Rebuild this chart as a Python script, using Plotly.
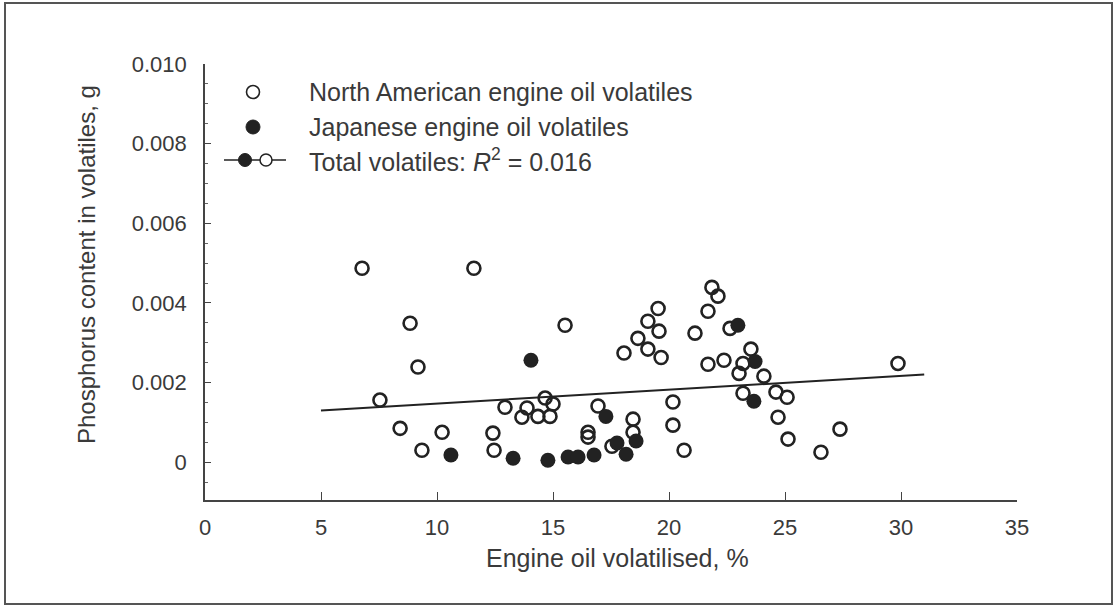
import plotly.graph_objects as go

# ---------------- data ----------------
na_x = [6.77, 7.54, 8.41, 8.84, 9.18, 9.35, 10.22, 11.59, 12.46, 12.41, 12.93, 13.88,
        13.66, 14.35, 14.87, 15.0, 14.66, 15.52, 16.94, 16.51, 16.51, 18.45, 18.45,
        17.54, 18.06, 19.09, 19.53, 19.57, 18.66, 19.09, 19.66, 20.17, 20.17, 20.65,
        21.12, 21.68, 21.85, 22.11, 22.63, 21.68, 22.37, 23.19, 23.53, 23.02, 24.09,
        23.19, 24.61, 25.09, 24.70, 25.13, 26.55, 27.37, 29.87]
na_y = [0.00487, 0.00156, 0.00085, 0.00349, 0.00239, 0.00030, 0.00075, 0.00487, 0.00030,
        0.00073, 0.00138, 0.00136, 0.00113, 0.00115, 0.00115, 0.00146, 0.00161, 0.00344,
        0.00141, 0.00075, 0.00063, 0.00108, 0.00075, 0.00040, 0.00274, 0.00354, 0.00386,
        0.00329, 0.00311, 0.00284, 0.00263, 0.00151, 0.00093, 0.00030, 0.00324, 0.00379,
        0.00439, 0.00417, 0.00336, 0.00246, 0.00256, 0.00248, 0.00284, 0.00223, 0.00216,
        0.00173, 0.00176, 0.00163, 0.00113, 0.00058, 0.00025, 0.00083, 0.00248]

jp_x = [10.6, 13.28, 14.05, 14.78, 15.65, 16.08, 16.77, 17.28, 17.76, 18.58, 18.15,
        22.97, 23.71, 23.66]
jp_y = [0.00018, 0.00010, 0.00256, 0.00005, 0.00013, 0.00013, 0.00018, 0.00115, 0.00048,
        0.00053, 0.00020, 0.00344, 0.00253, 0.00153]

trend_x = [5, 31]
trend_y = [0.0013, 0.0022]

x_ticks = [0, 5, 10, 15, 20, 25, 30, 35]
y_ticks = [0, 0.002, 0.004, 0.006, 0.008, 0.010]
y_tick_labels = ["0", "0.002", "0.004", "0.006", "0.008", "0.010"]

legend_labels = ["North American engine oil volatiles",
                 "Japanese engine oil volatiles",
                 "Total volatiles: <i>R</i><sup>2</sup> = 0.016"]

x_title = "Engine oil volatilised, %"
y_title = "Phosphorus content in volatiles, g"

# ---------------- layout geometry ----------------
W, H = 1116, 613
L, R, T, B = 205, 99, 64, 113
PW, PH = W - L - R, H - T - B
INK = "#222222"
TXT = "#3a3a3a"
FONT = "Liberation Sans, Arial, sans-serif"


def px(xp):
    return (xp - L) / PW


def py(yp):
    return (H - B - yp) / PH


fig = go.Figure()

fig.add_trace(go.Scatter(
    x=trend_x, y=trend_y, mode="lines",
    line=dict(color=INK, width=2), showlegend=False, hoverinfo="skip"))

fig.add_trace(go.Scatter(
    x=na_x, y=na_y, mode="markers", name=legend_labels[0],
    marker=dict(symbol="circle-open", size=13, color=INK, line=dict(width=2.6, color=INK)),
    showlegend=False))

fig.add_trace(go.Scatter(
    x=jp_x, y=jp_y, mode="markers", name=legend_labels[1],
    marker=dict(symbol="circle", size=15, color=INK, line=dict(width=0)),
    showlegend=False))

shapes = []
annotations = []

# outer frame
shapes.append(dict(type="rect", xref="paper", yref="paper",
                   x0=px(5), x1=px(1112), y0=py(604), y1=py(3),
                   line=dict(color="#555555", width=2), layer="below"))

# manual legend
rows = [92, 127, 160]


def circle(cx, cy, d, filled, lw):
    return dict(type="circle", xref="paper", yref="paper",
                xsizemode="pixel", ysizemode="pixel",
                xanchor=px(cx), yanchor=py(cy),
                x0=-d / 2, x1=d / 2, y0=-d / 2, y1=d / 2,
                line=dict(color=INK, width=lw),
                fillcolor=INK if filled else "white", layer="above")


shapes.append(circle(253, rows[0], 13, False, 1.6))
shapes.append(circle(253, rows[1], 14, True, 1))
shapes.append(dict(type="line", xref="paper", yref="paper",
                   x0=px(224), x1=px(286), y0=py(rows[2]), y1=py(rows[2]),
                   line=dict(color=INK, width=1.6), layer="above"))
shapes.append(circle(245, rows[2], 13, True, 1))
shapes.append(circle(266, rows[2], 12, False, 1.5))

for lab, ry in zip(legend_labels, rows):
    annotations.append(dict(text=lab, xref="paper", yref="paper",
                            x=px(307), y=py(ry), xanchor="left", yanchor="middle",
                            showarrow=False, font=dict(size=25, color=TXT, family=FONT)))

# axis titles
annotations.append(dict(text=x_title, xref="paper", yref="paper",
                        x=px(617), y=py(558), xanchor="center", yanchor="middle",
                        showarrow=False, font=dict(size=25, color=TXT, family=FONT)))
annotations.append(dict(text=y_title, xref="paper", yref="paper",
                        x=px(86), y=py(265), xanchor="center", yanchor="middle",
                        textangle=-90, showarrow=False,
                        font=dict(size=24, color=TXT, family=FONT)))

fig.update_layout(
    width=W, height=H,
    margin=dict(l=L, r=R, t=T, b=B, pad=0),
    paper_bgcolor="white", plot_bgcolor="white",
    font=dict(family=FONT, size=22, color=TXT),
    shapes=shapes, annotations=annotations,
    showlegend=False,
)

fig.update_xaxes(
    range=[0, 35], tickvals=x_ticks, ticktext=[str(v) for v in x_ticks],
    showgrid=False, zeroline=False, showline=True, linecolor="#444444", linewidth=1.6,
    ticks="inside", ticklen=8, tickwidth=1.3, tickcolor="#444444",
    tickfont=dict(size=22, color=TXT, family=FONT), ticklabelstandoff=7,
)
fig.update_yaxes(
    range=[-0.00095, 0.0100], tickvals=y_ticks, ticktext=y_tick_labels,
    showgrid=False, zeroline=False, showline=True, linecolor="#444444", linewidth=1.6,
    ticks="inside", ticklen=6, tickwidth=1.3, tickcolor="#444444",
    tickfont=dict(size=22, color=TXT, family=FONT), ticklabelstandoff=12,
    minor=dict(ticks="inside", ticklen=3, tickcolor="#666666", dtick=0.0005, tick0=0),
)

fig.write_html("out.html")
